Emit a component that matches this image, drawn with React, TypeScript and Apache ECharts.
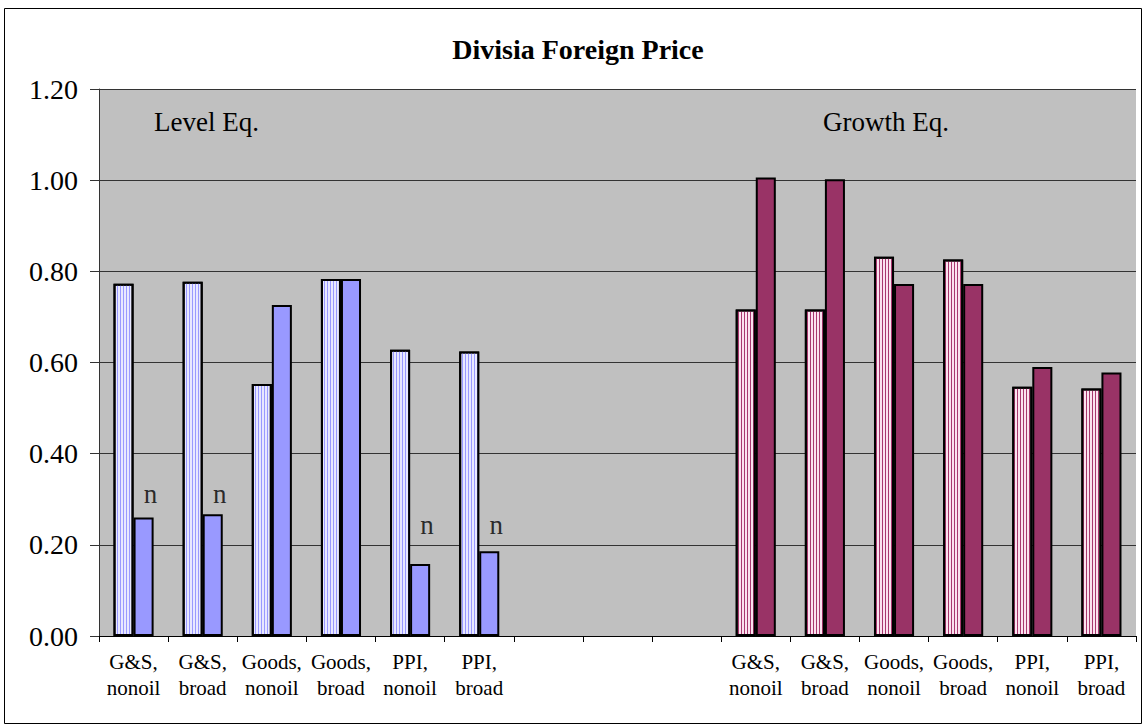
import React, { useEffect, useRef } from "react";
import * as echarts from "echarts";

const categories = [
  "G&S,\nnonoil", "G&S,\nbroad", "Goods,\nnonoil", "Goods,\nbroad", "PPI,\nnonoil", "PPI,\nbroad",
  "", "", "",
  "G&S,\nnonoil", "G&S,\nbroad", "Goods,\nnonoil", "Goods,\nbroad", "PPI,\nnonoil", "PPI,\nbroad",
];

const levelStriped = [0.773, 0.777, 0.553, 0.783, 0.628, 0.624];
const levelSolid = [0.26, 0.267, 0.726, 0.783, 0.158, 0.186];
const growthStriped = [0.716, 0.716, 0.832, 0.826, 0.547, 0.543];
const growthSolid = [1.006, 1.002, 0.772, 0.772, 0.59, 0.578];
// vertical position (in axis units) of the "n" annotations over the level bars
const nMarks = [0.311, 0.311, null, null, 0.243, 0.243];

const yMin = 0;
const yMax = 1.2;
const yStep = 0.2;

const gapSlots = [null, null, null];
const emptySide = [null, null, null, null, null, null];

const FONT = '"Liberation Serif", "Times New Roman", serif';

export default function App() {
  const ref = useRef<HTMLDivElement>(null);

  useEffect(() => {
    document.body.style.margin = "0";
    if (!ref.current) return;
    const chart = echarts.init(ref.current, null, { renderer: "svg" });

    const barBase = {
      type: "bar",
      barGap: "0%",
      barCategoryGap: "42%",
      itemStyle: { borderColor: "#000", borderWidth: 2 },
    };

    const option: any = {
      animation: false,
      backgroundColor: "#fff",
      grid: {
        left: 99,
        right: 7,
        top: 89,
        bottom: 90,
        show: true,
        backgroundColor: "#C0C0C0",
        borderWidth: 0,
      },
      graphic: [
        {
          type: "rect",
          silent: true,
          shape: { x: 4.5, y: 8.5, width: 1137, height: 715 },
          style: { fill: "none", stroke: "#000", lineWidth: 1 },
        },
        {
          type: "text",
          style: {
            text: "Divisia Foreign Price",
            x: 578,
            y: 49,
            align: "center",
            verticalAlign: "middle",
            font: `bold 28px ${FONT}`,
            fill: "#000",
          },
        },
        {
          type: "text",
          style: {
            text: "Level Eq.",
            x: 154,
            y: 122,
            align: "left",
            verticalAlign: "middle",
            font: `27px ${FONT}`,
            fill: "#000",
          },
        },
        {
          type: "text",
          style: {
            text: "Growth Eq.",
            x: 949,
            y: 122,
            align: "right",
            verticalAlign: "middle",
            font: `27px ${FONT}`,
            fill: "#000",
          },
        },
      ],
      xAxis: {
        type: "category",
        data: categories,
        boundaryGap: true,
        axisLine: { show: true, lineStyle: { color: "#000", width: 1 } },
        axisTick: { show: true, interval: 0, length: 6, lineStyle: { color: "#000" } },
        axisLabel: {
          interval: 0,
          fontSize: 21,
          lineHeight: 26,
          margin: 13,
          color: "#000",
          fontFamily: FONT,
        },
        splitLine: { show: false },
      },
      yAxis: {
        type: "value",
        min: yMin,
        max: yMax,
        interval: yStep,
        axisLine: { show: true, lineStyle: { color: "#333", width: 1 } },
        axisTick: { show: true, inside: false, length: 9, lineStyle: { color: "#333" } },
        axisLabel: {
          formatter: (v: number) => v.toFixed(2),
          fontSize: 28,
          margin: 21,
          color: "#000",
          fontFamily: FONT,
        },
        splitLine: { show: true, lineStyle: { color: "#333", width: 1 } },
      },
      series: [
        {
          ...barBase,
          name: "Level (1)",
          stack: "first",
          data: [...levelStriped, ...gapSlots, ...emptySide],
          itemStyle: {
            ...barBase.itemStyle,
            color: "#E8E8FF",
            decal: {
              symbol: "rect",
              symbolSize: 1,
              color: "#9999FF",
              dashArrayX: [1, 1.5],
              dashArrayY: [10, 0],
              rotation: 0,
            },
          },
        },
        {
          ...barBase,
          name: "Level (2)",
          stack: "second",
          data: [...levelSolid, ...gapSlots, ...emptySide],
          itemStyle: { ...barBase.itemStyle, color: "#9999FF" },
        },
        {
          ...barBase,
          name: "Growth (1)",
          stack: "first",
          data: [...emptySide, ...gapSlots, ...growthStriped],
          itemStyle: {
            ...barBase.itemStyle,
            color: "#FBE2EF",
            decal: {
              symbol: "rect",
              symbolSize: 1,
              color: "#A8386F",
              dashArrayX: [1, 1.5],
              dashArrayY: [10, 0],
              rotation: 0,
            },
          },
        },
        {
          ...barBase,
          name: "Growth (2)",
          stack: "second",
          data: [...emptySide, ...gapSlots, ...growthSolid],
          itemStyle: { ...barBase.itemStyle, color: "#993366" },
        },
        {
          type: "scatter",
          name: "n",
          symbolSize: 1,
          itemStyle: { color: "rgba(0,0,0,0)" },
          data: [...nMarks, ...gapSlots, ...emptySide],
          label: {
            show: true,
            position: "inside",
            offset: [17, 0],
            formatter: "n",
            fontSize: 27,
            color: "#000",
            fontFamily: FONT,
          },
          z: 10,
        },
      ],
    };

    chart.setOption(option);
    return () => {
      chart.dispose();
    };
  }, []);

  return <div ref={ref} style={{ width: 1143, height: 726 }} />;
}
